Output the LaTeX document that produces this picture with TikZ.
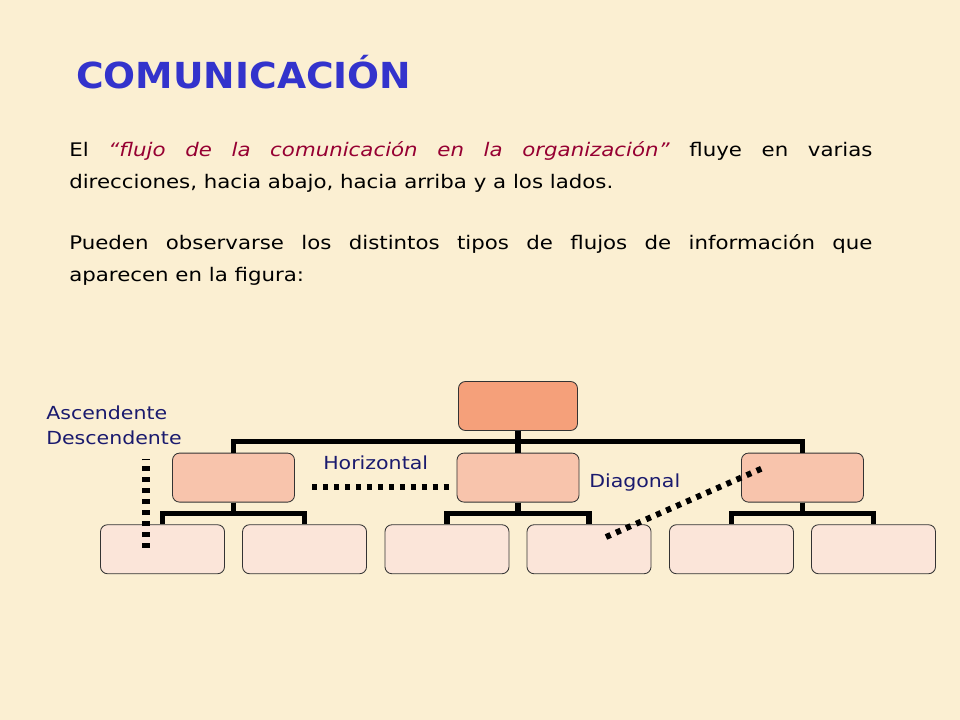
\documentclass[tikz,border=0pt]{standalone}
\usepackage{fontspec}
\setmainfont{DejaVu Sans}
\newfontfamily\texto{DejaVu Sans}[FakeStretch=1.14]
\newfontfamily\titulofont{DejaVu Sans}[FakeStretch=1.05]
\usepackage{tikz}
\usetikzlibrary{trees,positioning}
\usepackage{xcolor}

\definecolor{fondo}{RGB}{251,239,210}
\definecolor{azultitulo}{RGB}{51,51,204}
\definecolor{granate}{RGB}{150,0,50}
\definecolor{azuloscuro}{RGB}{26,26,110}
\definecolor{salmon}{RGB}{245,160,122}
\definecolor{salmonclaro}{RGB}{248,196,172}
\definecolor{rosado}{RGB}{251,229,217}

\begin{document}
\begin{tikzpicture}[
            x=0.025cm, y=-0.025cm,
            level distance=1.79cm,
            level 1/.style={sibling distance=7.11cm},
            level 2/.style={sibling distance=3.55cm},
            caja/.style={draw=black!80, line width=0.6pt, rounded corners=5pt, minimum height=1.225cm},
            jefe/.style={caja, fill=salmon, minimum width=2.975cm},
            mando/.style={caja, fill=salmonclaro, minimum width=3.05cm},
            base/.style={caja, fill=rosado, minimum width=3.1cm},
            edge from parent/.style={draw, black, line width=3.6pt},
            edge from parent fork down,
            flujo/.style={line width=5pt, dash pattern=on 3.6pt off 4.2pt},
            etiqueta/.style={text=azuloscuro, font=\texto\fontsize{12.8}{18.4}\selectfont, inner sep=0pt},
            parrafo/.style={text width=20.075cm, align=justify, inner sep=0pt, font=\texto\fontsize{13.3}{22.7}\selectfont}
        ]
            \useasboundingbox (0,0) rectangle (960,720);
            \fill[fondo] (0,0) rectangle (960,720);

            % titulo y texto
            \node[anchor=base west, inner sep=0pt, text=azultitulo, font=\titulofont\fontsize{25.5}{30}\selectfont\bfseries] (titulo) at (76,89) {COMUNICACIÓN};
            \node[parrafo, anchor=north west] (p1) at (69,141) {El \textcolor{granate}{\itshape “flujo de la comunicación en la organización”} fluye en varias\linebreak direcciones, hacia abajo, hacia arriba y a los lados.};
            \node[parrafo, below=1.05cm of p1] (p2) {Pueden observarse los distintos tipos de flujos de información que\linebreak aparecen en la figura:};

            % organigrama
            \node[jefe] (raiz) at (518,406) {}
                child {
                    node[mando] (m1) {}
                    child {node[base] (h1) {}}
                    child {node[base] (h2) {}}
                }
                child {
                    node[mando] (m2) {}
                    child {node[base] (h3) {}}
                    child {node[base] (h4) {}}
                }
                child {
                    node[mando] (m3) {}
                    child {node[base] (h5) {}}
                    child {node[base] (h6) {}}
                };

            % flujos
            \coordinate (v1) at (146,548);
            \coordinate (v2) at (146,459);
            \coordinate (hz1) at (312,487);
            \coordinate (hz2) at (453,487);
            \coordinate (d1) at (606,537);
            \coordinate (d2) at (763,468);
            \draw[flujo] (v1) -- (v2);
            \draw[flujo, line width=4.2pt] (hz1) -- (hz2);
            \draw[flujo, line width=4.2pt] (d1) -- (d2);

            \node[etiqueta, anchor=base west, align=left] (asc) at (46,445) {Ascendente\\Descendente};
            \node[etiqueta, anchor=base west] (hor) at (323,470) {Horizontal};
            \node[etiqueta, anchor=base west] (dia) at (589,488) {Diagonal};
        \end{tikzpicture}
\end{document}
